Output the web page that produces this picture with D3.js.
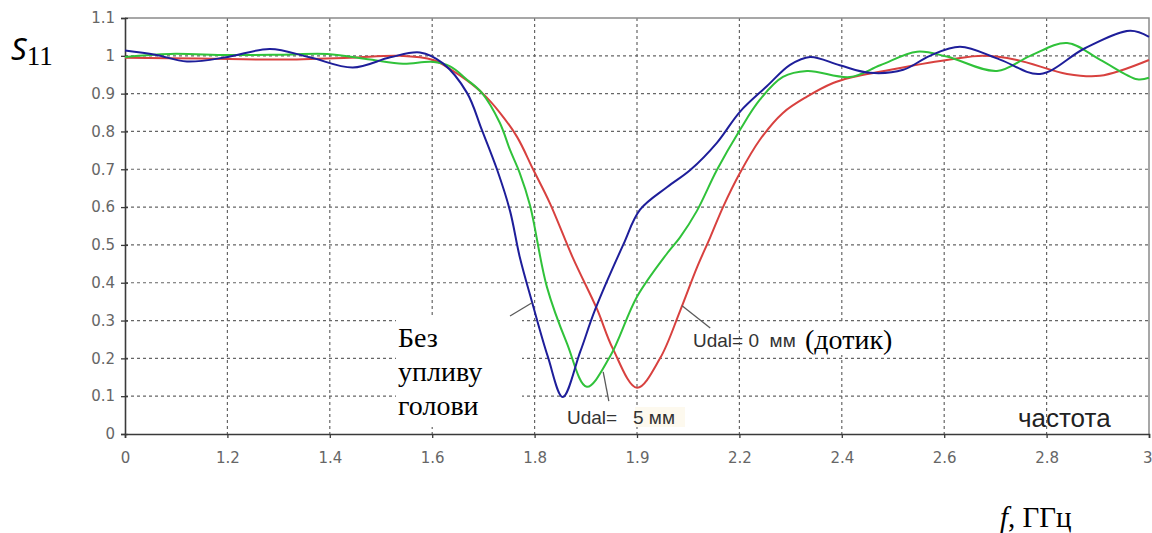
<!DOCTYPE html>
<html>
<head>
<meta charset="utf-8">
<script src="https://cdn.jsdelivr.net/npm/d3@7"></script>
<style>
  body { margin: 0; background: #fff; }
  svg { display: block; }
</style>
</head>
<body>
<svg width="1152" height="533"></svg>
<script>
// axis ticks (labels are as printed on the original picture)
const xTickValues = [1.0, 1.2, 1.4, 1.6, 1.8, 2.0, 2.2, 2.4, 2.6, 2.8, 3.0];
const xTickLabels = ["0", "1.2", "1.4", "1.6", "1.8", "1.9", "2.2", "2.4", "2.6", "2.8", "3"];
const yTickValues = [0, 0.1, 0.2, 0.3, 0.4, 0.5, 0.6, 0.7, 0.8, 0.9, 1.0, 1.1];
const yTickLabels = ["0", "0.1", "0.2", "0.3", "0.4", "0.5", "0.6", "0.7", "0.8", "0.9", "1", "1.1"];

// "Без упливу голови" (blue)
const freqBlue = [1.000, 1.059, 1.121, 1.201, 1.283, 1.361, 1.445, 1.518, 1.576, 1.621,
                  1.668, 1.697, 1.727, 1.752, 1.771, 1.795, 1.826, 1.855, 1.889, 1.918,
                  1.973, 2.006, 2.059, 2.104, 2.156, 2.201, 2.254, 2.299, 2.338, 2.396,
                  2.455, 2.520, 2.572, 2.631, 2.709, 2.787, 2.875, 2.963, 3.000];
const s11Blue  = [1.014, 1.003, 0.985, 0.997, 1.018, 0.996, 0.969, 0.996, 1.009, 0.980,
                  0.902, 0.804, 0.698, 0.590, 0.468, 0.349, 0.204, 0.098, 0.217, 0.328,
                  0.500, 0.593, 0.653, 0.698, 0.770, 0.852, 0.920, 0.976, 0.997, 0.975,
                  0.955, 0.963, 1.000, 1.024, 0.990, 0.952, 1.020, 1.066, 1.050];

// Udal = 5 мм (green)
const freqGreen = [1.000, 1.088, 1.201, 1.303, 1.395, 1.479, 1.543, 1.600, 1.635, 1.668,
                   1.697, 1.732, 1.752, 1.771, 1.791, 1.824, 1.863, 1.902, 1.947, 2.000,
                   2.059, 2.084, 2.117, 2.156, 2.201, 2.240, 2.285, 2.332, 2.416, 2.475,
                   2.547, 2.605, 2.703, 2.768, 2.840, 2.904, 2.977, 3.000];
const s11Green  = [0.997, 1.005, 1.002, 1.003, 1.005, 0.990, 0.979, 0.984, 0.972, 0.937,
                   0.902, 0.823, 0.751, 0.690, 0.605, 0.389, 0.240, 0.125, 0.204, 0.363,
                   0.478, 0.520, 0.590, 0.698, 0.804, 0.884, 0.944, 0.960, 0.944, 0.975,
                   1.011, 0.998, 0.960, 1.000, 1.034, 0.990, 0.938, 0.942];

// Udal = 0 мм, дотик (red)
const freqRed = [1.000, 1.146, 1.303, 1.439, 1.537, 1.602, 1.635, 1.668, 1.699, 1.732,
                 1.766, 1.797, 1.830, 1.875, 1.922, 1.953, 2.000, 2.045, 2.084, 2.117,
                 2.143, 2.168, 2.201, 2.240, 2.285, 2.332, 2.383, 2.416, 2.514, 2.611,
                 2.676, 2.742, 2.840, 2.904, 3.000];
const s11Red  = [0.995, 0.993, 0.990, 0.995, 1.000, 0.989, 0.965, 0.935, 0.900, 0.850,
                 0.785, 0.700, 0.610, 0.465, 0.330, 0.225, 0.122, 0.200, 0.325, 0.440,
                 0.520, 0.600, 0.690, 0.778, 0.849, 0.892, 0.928, 0.942, 0.968, 0.990,
                 1.000, 0.989, 0.952, 0.947, 0.989];

const svg = d3.select("svg");

// plot frame in pixels
const plotLeft = 125, plotRight = 1149, plotTop = 18, plotBottom = 434;

const x = d3.scaleLinear().domain([1, 3]).range([plotLeft, plotRight]);
const y = d3.scaleLinear().domain([0, 1.1]).range([plotBottom, plotTop]);

// dotted grid
const grid = svg.append("g")
    .attr("stroke", "#666")
    .attr("stroke-width", 1.2)
    .attr("stroke-dasharray", "3,3");

grid.selectAll("line.v")
    .data(xTickValues.slice(1, -1))
    .enter().append("line")
    .attr("class", "v")
    .attr("x1", d => x(d)).attr("x2", d => x(d))
    .attr("y1", y(1.1)).attr("y2", y(0));

grid.selectAll("line.h")
    .data(yTickValues.slice(1, -1))
    .enter().append("line")
    .attr("class", "h")
    .attr("x1", x(1)).attr("x2", x(3))
    .attr("y1", d => y(d)).attr("y2", d => y(d));

// top and right border
svg.append("path")
    .attr("d", `M${x(1)},${y(1.1)}H${x(3)}V${y(0)}`)
    .attr("fill", "none")
    .attr("stroke", "#8a8a8a")
    .attr("stroke-width", 1.5);

// white boxes behind the annotations
svg.append("rect")
    .attr("x", 396).attr("y", 317).attr("width", 126).attr("height", 110)
    .attr("fill", "#fff");
svg.append("rect")
    .attr("x", 800).attr("y", 323).attr("width", 115).attr("height", 32)
    .attr("fill", "#fff");
svg.append("rect")
    .attr("x", 635).attr("y", 407).attr("width", 50).attr("height", 20)
    .attr("fill", "#fdf9ee");

// axes
const xAxis = d3.axisBottom(x)
    .tickValues(xTickValues)
    .tickFormat((d, i) => xTickLabels[i])
    .tickSize(4)
    .tickPadding(14);

const yAxis = d3.axisLeft(y)
    .tickValues(yTickValues)
    .tickFormat((d, i) => yTickLabels[i])
    .tickSize(4)
    .tickPadding(6);

const gx = svg.append("g")
    .attr("transform", `translate(0,${y(0)})`)
    .call(xAxis);

const gy = svg.append("g")
    .attr("transform", `translate(${x(1)},0)`)
    .call(yAxis);

[gx, gy].forEach(g => {
    g.select(".domain").attr("stroke", "#3a3a3a").attr("stroke-width", 1.6);
    g.selectAll(".tick line").attr("stroke", "#3a3a3a").attr("stroke-width", 1.3);
    g.selectAll(".tick text")
        .attr("fill", "#666")
        .attr("font-family", "'DejaVu Sans', Verdana, sans-serif")
        .attr("font-size", 15);
});
gy.selectAll(".tick line").attr("x2", 3).attr("x1", -4);
// keep the last x label inside the picture
gx.selectAll(".tick text").filter((d, i) => i === xTickValues.length - 1)
    .attr("text-anchor", "end").attr("dx", 3);

// the three curves
const line = d3.line()
    .x(d => x(d[0]))
    .y(d => y(d[1]))
    .curve(d3.curveCatmullRom.alpha(0.5));

const series = [
    { f: freqRed, s: s11Red, colour: "#d8413f" },
    { f: freqGreen, s: s11Green, colour: "#30c23a" },
    { f: freqBlue, s: s11Blue, colour: "#1e1e9a" }
];

svg.append("g")
    .selectAll("path")
    .data(series)
    .enter().append("path")
    .attr("d", d => line(d.f.map((f, i) => [f, d.s[i]])))
    .attr("fill", "none")
    .attr("stroke", d => d.colour)
    .attr("stroke-width", 2);

// leader lines
const leaders = [
    [[1.752, 0.312], [1.795, 0.347]],
    [[2.088, 0.339], [2.143, 0.280]],
    [[1.934, 0.164], [1.945, 0.087]]
];
svg.append("g")
    .selectAll("line")
    .data(leaders)
    .enter().append("line")
    .attr("x1", d => x(d[0][0])).attr("y1", d => y(d[0][1]))
    .attr("x2", d => x(d[1][0])).attr("y2", d => y(d[1][1]))
    .attr("stroke", "#5a5a5a")
    .attr("stroke-width", 1.3);

// annotations
const serif = "'Liberation Serif', 'Times New Roman', serif";
const sans = "'Liberation Sans', Arial, sans-serif";

const head = svg.append("text")
    .attr("font-family", serif)
    .attr("font-size", 28)
    .attr("fill", "#000");
["Без", "упливу", "голови"].forEach((t, i) => {
    head.append("tspan").attr("x", 398).attr("y", 347 + i * 34).text(t);
});

svg.append("text")
    .attr("x", 693).attr("y", 347)
    .attr("font-family", sans).attr("font-size", 19).attr("fill", "#333")
    .attr("xml:space", "preserve")
    .text("Udal= 0  мм");

svg.append("text")
    .attr("x", 805).attr("y", 349)
    .attr("font-family", serif).attr("font-size", 28).attr("fill", "#000")
    .text("(дотик)");

svg.append("text")
    .attr("x", 567).attr("y", 424)
    .attr("font-family", sans).attr("font-size", 19).attr("fill", "#333")
    .attr("xml:space", "preserve")
    .text("Udal=   5 мм");

svg.append("text")
    .attr("x", 1018).attr("y", 427)
    .attr("font-family", sans).attr("font-size", 26).attr("fill", "#222")
    .text("частота");

// axis titles
const yTitle = svg.append("text").attr("x", 11).attr("y", 60).attr("fill", "#000");
yTitle.append("tspan")
    .attr("font-family", "'Noto Sans', sans-serif")
    .attr("font-style", "italic")
    .attr("font-size", 31)
    .text("S");
yTitle.append("tspan")
    .attr("font-family", serif)
    .attr("font-size", 27)
    .attr("dy", 5)
    .text("11");

const xTitle = svg.append("text").attr("x", 1000).attr("y", 527)
    .attr("font-family", serif).attr("font-size", 29).attr("fill", "#000");
xTitle.append("tspan").attr("font-style", "italic").text("f");
xTitle.append("tspan").text(", ГГц");
</script>
</body>
</html>
